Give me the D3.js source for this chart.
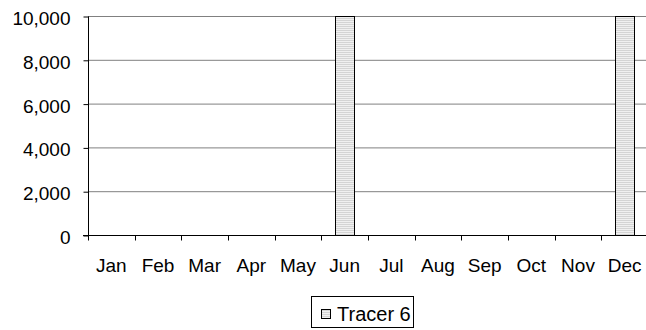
<!DOCTYPE html>
<html><head><meta charset="utf-8">
<script src="https://cdn.jsdelivr.net/npm/d3@7"></script>
<style>body{margin:0;background:#fff}svg{display:block;font-family:"Liberation Sans",Arial,sans-serif}</style>
</head><body><svg id="c" width="646" height="330"></svg>
<script>
const categories = ["Jan","Feb","Mar","Apr","May","Jun","Jul","Aug","Sep","Oct","Nov","Dec"];
const seriesName = "Tracer 6";
const values = [0,0,0,0,0,10000,0,0,0,0,0,10000];
const yTicks = [0,2000,4000,6000,8000,10000];

const svg = d3.select("#c");
const L = 88, R = 648, T = 16, B = 235;
const x = d3.scaleBand().domain(categories).range([L, R]).paddingInner(0.59).paddingOuter(0.295);
const xb = d3.scaleBand().domain(categories).range([L, R]);
const y = d3.scaleLinear().domain([0, 10000]).range([B, T]);

const defs = svg.append("defs");
const pat = defs.append("pattern").attr("id","stripes").attr("patternUnits","userSpaceOnUse").attr("width",4).attr("height",2);
pat.append("rect").attr("width",4).attr("height",2).attr("fill","#f0f0f0");
pat.append("rect").attr("width",4).attr("height",1).attr("fill","#d4d4d4");

// gridlines
svg.append("g").selectAll("line").data(yTicks.filter(d=>d>0)).join("line")
  .attr("x1", L).attr("x2", R).attr("y1", d=>y(d)+0.5).attr("y2", d=>y(d)+0.5)
  .attr("stroke", "#808080").attr("stroke-width", 1);

// bars
svg.append("g").selectAll("rect").data(categories.map((c,i)=>({c, v: values[i]})).filter(d=>d.v>0)).join("rect")
  .attr("x", d=>Math.round(x(d.c))+0.5).attr("y", d=>y(d.v)+0.5)
  .attr("width", Math.round(x.bandwidth())).attr("height", d=>y(0)-y(d.v))
  .attr("fill","url(#stripes)").attr("stroke","#000").attr("stroke-width",1);

// y axis
const yAxis = d3.axisLeft(y).tickValues(yTicks).tickFormat(d3.format(",")).tickSize(5).tickPadding(13);
const gy = svg.append("g").attr("transform",`translate(${L+0.5},0.5)`).call(yAxis);
gy.attr("font-size",null).attr("font-family",null);
gy.select(".domain").attr("d", `M0,${T}V${B}`).attr("stroke","#000");
gy.selectAll(".tick line").attr("stroke","#000");
gy.selectAll("text").style("font-size","19px").attr("fill","#000").attr("dy","0.42em");

// x axis
const gx = svg.append("g").attr("transform",`translate(0,${B+0.5})`);
gx.append("line").attr("x1",L-5).attr("x2",R).attr("stroke","#000");
gx.selectAll("line.t").data(categories).join("line").attr("class","t")
  .attr("x1", d=>Math.round(xb(d))+0.5).attr("x2", d=>Math.round(xb(d))+0.5).attr("y1",0).attr("y2",5).attr("stroke","#000");
gx.selectAll("text").data(categories).join("text")
  .attr("x", d=>xb(d)+xb.bandwidth()/2).attr("y", 36).attr("text-anchor","middle")
  .style("font-size","19px").attr("fill","#000").text(d=>d);

// legend
const lg = svg.append("g");
lg.append("rect").attr("x",311.5).attr("y",296.5).attr("width",102).attr("height",31).attr("fill","#fff").attr("stroke","#000");
lg.append("rect").attr("x",321.5).attr("y",309.5).attr("width",9).attr("height",9).attr("fill","url(#stripes)").attr("stroke","#000");
lg.append("text").attr("x",337).attr("y",321).style("font-size","20px").attr("fill","#000").text(seriesName);
</script></body></html>
